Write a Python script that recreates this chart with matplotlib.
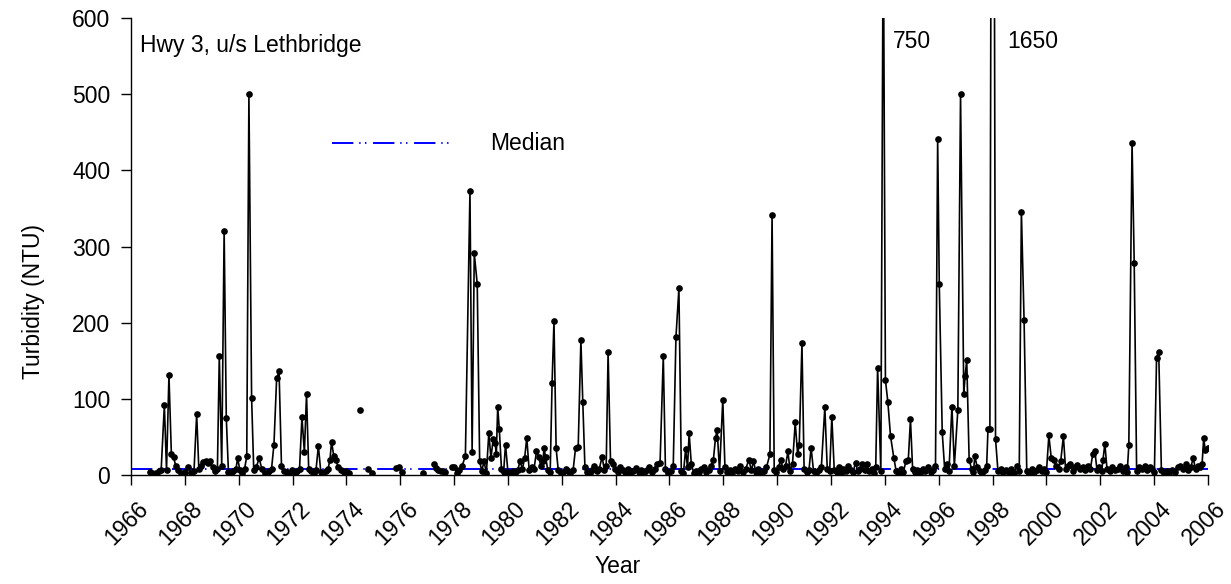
import numpy as np
import matplotlib.pyplot as plt
from matplotlib.transforms import ScaledTranslation

nan = np.nan

# sampling dates (decimal years); nan breaks the line where sampling stopped
year = [
    1966.70, 1966.78, 1966.86, 1966.94, 1967.03, 1967.12, 1967.24, 1967.32, 1967.41, 1967.50,
    1967.58, 1967.66, 1967.75, 1967.84, 1967.93, 1968.02, 1968.13, 1968.24, 1968.34, 1968.44,
    1968.52, 1968.61, 1968.69, 1968.77, 1968.85, 1968.94, 1969.03, 1969.13, 1969.21, 1969.28,
    1969.37, 1969.46, 1969.54, 1969.62, 1969.71, 1969.80, 1969.90, 1969.96, 1970.05, 1970.14,
    1970.22, 1970.30, 1970.38, 1970.48, 1970.56, 1970.65, 1970.76, 1970.86, 1970.96, 1971.05,
    1971.14, 1971.22, 1971.31, 1971.41, 1971.50, 1971.59, 1971.68, 1971.78, 1971.88, 1971.98,
    1972.08, 1972.18, 1972.26, 1972.35, 1972.44, 1972.52, 1972.60, 1972.69, 1972.78, 1972.87,
    1972.96, 1973.05, 1973.14, 1973.23, 1973.32, 1973.39, 1973.45, 1973.53, 1973.61, 1973.70,
    1973.80, 1973.90, 1974.00, 1974.10, nan, 1974.50, nan, 1974.82, 1974.95, nan,
    1975.85, 1975.95, 1976.05, nan, 1976.83, nan, 1977.25, 1977.33, 1977.42, 1977.50,
    1977.58, 1977.67, nan, 1977.92, 1978.00, 1978.10, 1978.20, 1978.30, 1978.42, 1978.59,
    1978.67, 1978.75, 1978.86, 1978.95, 1979.03, 1979.11, 1979.20, 1979.29, 1979.37, 1979.45,
    1979.52, 1979.57, 1979.62, 1979.68, 1979.76, 1979.84, 1979.91, 1980.00, 1980.09, 1980.18,
    1980.27, 1980.36, 1980.45, 1980.54, 1980.62, 1980.70, 1980.79, 1980.88, 1980.97, 1981.06,
    1981.14, 1981.22, 1981.30, 1981.34, 1981.40, 1981.48, 1981.57, 1981.64, 1981.71, 1981.79,
    1981.87, 1981.96, 1982.05, 1982.14, 1982.23, 1982.32, 1982.42, 1982.51, 1982.61, 1982.71,
    1982.78, 1982.86, 1982.95, 1983.04, 1983.13, 1983.21, 1983.30, 1983.39, 1983.50, 1983.58,
    1983.65, 1983.72, 1983.81, 1983.89, 1983.98, 1984.08, 1984.17, 1984.26, 1984.35, 1984.45,
    1984.55, 1984.65, 1984.75, 1984.85, 1984.95, 1985.05, 1985.15, 1985.25, 1985.35, 1985.45,
    1985.55, 1985.65, 1985.77, 1985.85, 1985.95, 1986.05, 1986.14, 1986.24, 1986.35, 1986.44,
    1986.52, 1986.60, 1986.67, 1986.73, 1986.81, 1986.90, 1987.00, 1987.09, 1987.18, 1987.27,
    1987.36, 1987.45, 1987.55, 1987.63, 1987.71, 1987.77, 1987.86, 1987.98, 1988.06, 1988.15,
    1988.24, 1988.33, 1988.43, 1988.53, 1988.63, 1988.73, 1988.83, 1988.95, 1989.04, 1989.12,
    1989.21, 1989.30, 1989.40, 1989.50, 1989.60, 1989.73, 1989.81, 1989.89, 1989.97, 1990.05,
    1990.13, 1990.22, 1990.31, 1990.40, 1990.48, 1990.57, 1990.67, 1990.76, 1990.82, 1990.92,
    1991.00, 1991.09, 1991.18, 1991.26, 1991.35, 1991.44, 1991.54, 1991.64, 1991.77, 1991.86,
    1991.95, 1992.03, 1992.12, 1992.21, 1992.29, 1992.37, 1992.46, 1992.55, 1992.64, 1992.73,
    1992.82, 1992.91, 1993.00, 1993.08, 1993.16, 1993.25, 1993.33, 1993.42, 1993.51, 1993.60,
    1993.66, 1993.73, 1993.85, 1993.94, 1994.02, 1994.11, 1994.21, 1994.33, 1994.42, 1994.51,
    1994.60, 1994.69, 1994.78, 1994.87, 1994.95, 1995.03, 1995.12, 1995.21, 1995.30, 1995.40,
    1995.50, 1995.60, 1995.70, 1995.80, 1995.88, 1995.96, 1996.02, 1996.13, 1996.22, 1996.30,
    1996.38, 1996.49, 1996.58, 1996.71, 1996.81, 1996.93, 1996.98, 1997.04, 1997.13, 1997.22,
    1997.29, 1997.34, 1997.43, 1997.52, 1997.61, 1997.70, 1997.78, 1997.83, 1997.90, 1998.00,
    1998.11, 1998.20, 1998.30, 1998.40, 1998.50, 1998.60, 1998.70, 1998.80, 1998.90, 1998.99,
    1999.07, 1999.17, 1999.27, 1999.36, 1999.45, 1999.54, 1999.64, 1999.73, 1999.82, 1999.91,
    2000.00, 2000.09, 2000.18, 2000.27, 2000.36, 2000.45, 2000.53, 2000.63, 2000.71, 2000.80,
    2000.89, 2000.98, 2001.07, 2001.15, 2001.24, 2001.34, 2001.44, 2001.54, 2001.63, 2001.72,
    2001.80, 2001.88, 2001.96, 2002.05, 2002.10, 2002.17, 2002.25, 2002.35, 2002.45, 2002.55,
    2002.65, 2002.75, 2002.85, 2002.95, 2003.00, 2003.06, 2003.18, 2003.26, 2003.35, 2003.45,
    2003.55, 2003.65, 2003.74, 2003.84, 2003.93, 2004.01, 2004.09, 2004.17, 2004.27, 2004.37,
    2004.47, 2004.57, 2004.67, 2004.77, 2004.87, 2004.97, 2005.07, 2005.17, 2005.26, 2005.36,
    2005.45, 2005.54, 2005.62, 2005.70, 2005.78, 2005.84, 2005.90, 2006.00,
]

# turbidity (NTU) for each sample
ntu = [
    4, 3, 2, 3, 5, 6, 92, 6, 131, 28,
    24, 12, 6, 3, 2, 4, 10, 3, 5, 80,
    8, 12, 17, 18, 16, 18, 10, 5, 8, 156,
    12, 321, 75, 4, 3, 5, 8, 22, 6, 3,
    8, 25, 500, 101, 6, 10, 22, 8, 3, 2,
    5, 8, 40, 127, 136, 12, 5, 4, 3, 6,
    3, 5, 8, 76, 30, 106, 8, 5, 3, 6,
    38, 4, 3, 5, 8, 20, 44, 25, 20, 10,
    6, 4, 5, 3, nan, 85, nan, 8, 3, nan,
    9, 11, 4, nan, 3, nan, 14, 9, 6, 5,
    5, 4, nan, 10, 11, 3, 7, 12, 25, 373,
    30, 291, 251, 18, 5, 18, 3, 55, 22, 47,
    42, 28, 89, 60, 8, 4, 40, 4, 3, 5,
    3, 6, 18, 8, 22, 49, 6, 10, 8, 31,
    24, 12, 18, 35, 24, 6, 4, 121, 202, 35,
    6, 3, 4, 8, 5, 3, 6, 35, 37, 177,
    96, 10, 4, 3, 7, 12, 5, 8, 24, 6,
    12, 161, 18, 15, 8, 4, 10, 6, 4, 8,
    3, 5, 9, 4, 7, 3, 6, 10, 4, 8,
    15, 16, 156, 8, 3, 5, 12, 181, 245, 5,
    3, 34, 10, 55, 15, 3, 5, 4, 8, 10,
    4, 6, 12, 20, 49, 59, 5, 99, 10, 4,
    6, 3, 8, 5, 12, 4, 8, 20, 6, 18,
    4, 8, 3, 5, 10, 27, 341, 6, 4, 10,
    20, 8, 12, 31, 5, 15, 69, 27, 40, 173,
    8, 4, 6, 36, 5, 3, 6, 10, 89, 8,
    5, 76, 6, 4, 10, 2, 8, 5, 12, 6,
    4, 16, 5, 8, 15, 6, 14, 5, 8, 3,
    10, 141, 5, 750, 125, 96, 51, 23, 5, 3,
    8, 4, 18, 20, 73, 8, 4, 6, 3, 8,
    5, 10, 4, 6, 12, 441, 251, 56, 8, 15,
    5, 90, 12, 86, 500, 106, 130, 151, 20, 8,
    4, 25, 10, 5, 3, 6, 12, 61, 60, 1650,
    47, 5, 8, 3, 6, 4, 8, 3, 12, 5,
    346, 203, 5, 3, 8, 4, 6, 10, 5, 8,
    4, 52, 22, 20, 12, 8, 18, 51, 8, 12,
    15, 5, 10, 13, 8, 10, 6, 12, 8, 27,
    31, 6, 10, 5, 20, 41, 8, 5, 10, 6,
    8, 12, 5, 10, 4, 39, 436, 279, 5, 10,
    8, 12, 6, 10, 8, 4, 154, 162, 6, 3,
    5, 3, 6, 4, 10, 12, 8, 14, 6, 10,
    22, 8, 12, 10, 14, 48, 33, 36,
]

median_ntu = 8

# off-scale peaks, labelled at the top of the axis
offscale_text = ['750', '1650']
offscale_x = [1994.30, 1998.53]

assert len(year) == len(ntu)

plt.rcParams['font.family'] = ['Liberation Sans', 'DejaVu Sans']
plt.rcParams['font.size'] = 16.5

fig = plt.figure(figsize=(12.31, 5.84), dpi=100)
ax = fig.add_axes([0.1064, 0.1866, 0.8749, 0.7822])

dash = (11, 3, 0.7, 2.3, 0.7, 3.4)
ax.axhline(median_ntu, color='blue', lw=1.4, dashes=dash, zorder=1)
ax.plot(year, ntu, color='black', lw=1.2, marker='o', ms=3.8, zorder=2)

# median key
ax.plot([1973.46, 1977.92], [436, 436], color='blue', lw=1.4, dashes=dash)
ax.text(1979.33, 436, 'Median', va='center')

ax.text(1966.33, 556, 'Hwy 3, u/s Lethbridge', va='baseline')
for t, x in zip(offscale_text, offscale_x):
    ax.text(x, 561, t, va='baseline')

ax.set_xlim(1966, 2006)
ax.set_ylim(0, 600)
ax.set_xticks(np.arange(1966, 2007, 2))
ax.set_yticks(np.arange(0, 601, 100))
ax.tick_params(direction='out', length=7, width=1)
ax.tick_params(axis='y', pad=8)
ax.tick_params(axis='x', pad=6)

# slanted year labels, nudged a little right of their ticks
shift = ScaledTranslation(0.06, -0.04, fig.dpi_scale_trans)
for lab in ax.get_xticklabels():
    lab.set_rotation(45)
    lab.set_ha('right')
    lab.set_rotation_mode('anchor')
    lab.set_transform(lab.get_transform() + shift)

ax.spines['top'].set_visible(False)
ax.spines['right'].set_visible(False)
ax.spines['left'].set_linewidth(1.0)
ax.spines['bottom'].set_linewidth(1.0)

ax.set_xlabel('Year', va='center')
ax.set_ylabel('Turbidity (NTU)')
ax.xaxis.set_label_coords(0.452, -0.2)
ax.yaxis.set_label_coords(-0.080, 0.38)

fig.savefig('out.png', dpi=100)
